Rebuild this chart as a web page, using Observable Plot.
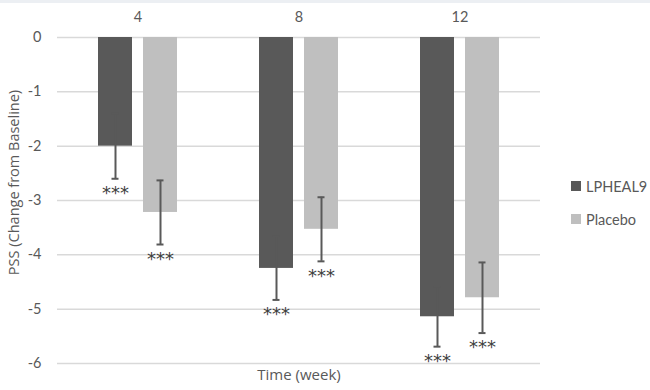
<!DOCTYPE html>
<html>
<head>
<meta charset="utf-8">
<script src="https://cdn.jsdelivr.net/npm/d3@7"></script>
<script src="https://cdn.jsdelivr.net/npm/@observablehq/plot@0.6"></script>
<style>
  html, body { margin: 0; padding: 0; background: #fff; }
  #wrap { position: relative; width: 650px; height: 390px; font-family: Lato, "Open Sans", sans-serif; }
  #strip { position: absolute; left: 0; top: 0; width: 650px; height: 3px; background: #eceff3; }
  #legend { position: absolute; left: 571px; top: 178px; font-size: 14.5px; color: #595959; }
  #legend .item { display: flex; align-items: center; height: 16px; margin-bottom: 17px; }
  #legend .sw { width: 10px; height: 10px; margin-right: 5px; }
</style>
</head>
<body>
<div id="wrap"><div id="strip"></div><div id="legend"></div></div>
<script>
const weeks = ["4", "8", "12"];
const series = ["LPHEAL9", "Placebo"];
const colors = ["#595959", "#bfbfbf"];
const lpheal9 = [-2.0, -4.25, -5.14];
const lphealErr = [0.6, 0.58, 0.55];
const placebo = [-3.22, -3.53, -4.79];
const placeboErr = [0.59, 0.59, 0.65];
const stars = ["***", "***", "***"];
const yTicks = [0, -1, -2, -3, -4, -5, -6];
const yTitle = "PSS (Change from Baseline)";
const xTitle = "Time (week)";

const data = [];
weeks.forEach((w, i) => {
  data.push({week: w, series: series[0], value: lpheal9[i], err: lphealErr[i], sig: stars[i]});
  data.push({week: w, series: series[1], value: placebo[i], err: placeboErr[i], sig: stars[i]});
});

const titleFont = "'Open Sans', Lato, sans-serif";

const chart = Plot.plot({
  width: 650,
  height: 390,
  marginLeft: 56,
  marginRight: 109,
  marginTop: 37,
  marginBottom: 27,
  style: {fontFamily: "Lato, 'Open Sans', sans-serif", fontSize: "14px", color: "#595959", background: "transparent"},
  fx: {domain: weeks, padding: 0, label: null},
  x: {domain: series, paddingInner: 0.239, paddingOuter: 0.87, axis: null},
  y: {domain: [-6, 0], label: null},
  color: {domain: series, range: colors},
  marks: [
    Plot.gridY(yTicks, {stroke: "#d9d9d9", strokeOpacity: 1, strokeWidth: 1.5}),
    Plot.axisY(yTicks, {tickSize: 0, tickPadding: 16, fontSize: 14.5, label: null, tickFormat: d => d === 0 ? "0" : String(d).replace("−", "-")}),
    Plot.axisFx({anchor: "top", tickSize: 0, tickPadding: 16, fontSize: 14.5, label: null}),
    Plot.text([yTitle], {fx: () => weeks[0], frameAnchor: "left", textAnchor: "middle", text: d => d, rotate: -90, dx: -43, dy: -18, fontSize: 14.5, fontFamily: titleFont, fill: "#595959"}),
    Plot.text([xTitle], {fx: () => weeks[1], frameAnchor: "bottom", textAnchor: "middle", text: d => d, dy: 16, fontSize: 15, fontFamily: titleFont, fill: "#595959"}),
    Plot.barY(data, {fx: "week", x: "series", y: "value", fill: "series"}),
    Plot.ruleX(data, {fx: "week", x: "series", y1: d => d.value - d.err, y2: d => d.value + d.err, stroke: "#595959", strokeWidth: 2}),
    Plot.tickY(data, {fx: "week", x: "series", y: d => d.value - d.err, stroke: "#595959", strokeWidth: 2, insetLeft: 13.5, insetRight: 13.5}),
    Plot.tickY(data, {fx: "week", x: "series", y: d => d.value + d.err, stroke: "#595959", strokeWidth: 2, insetLeft: 13.5, insetRight: 13.5}),
    Plot.text(data, {fx: "week", x: "series", y: d => d.value - d.err, text: "sig", dy: 14.5, fontSize: 18, fontFamily: "'DejaVu Sans', sans-serif", fill: "#404040", letterSpacing: 1.5})
  ]
});
document.getElementById("wrap").appendChild(chart);

const leg = document.getElementById("legend");
series.forEach((s, i) => {
  const it = document.createElement("div");
  it.className = "item";
  const sw = document.createElement("span");
  sw.className = "sw";
  sw.style.background = colors[i];
  const t = document.createElement("span");
  t.textContent = s;
  it.appendChild(sw);
  it.appendChild(t);
  leg.appendChild(it);
});
</script>
</body>
</html>
